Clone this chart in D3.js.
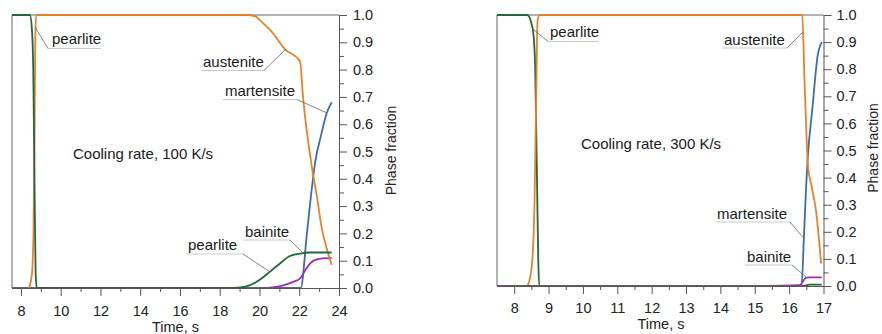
<!DOCTYPE html>
<html>
<head>
<meta charset="utf-8">
<script src="https://cdn.jsdelivr.net/npm/d3@7"></script>
<style>
  body { margin: 0; background: #fff; }
  svg { display: block; font-family: "Liberation Sans", Arial, sans-serif; }
</style>
</head>
<body>
<div id="chart"></div>
<script>
// ---------------------< data: 100 K/s panel (time s, fraction) >---------------------
const time_ticks_100 = [8, 10, 12, 14, 16, 18, 20, 22, 24];
const time_minor_100 = [9, 11, 13, 15, 17, 19, 21, 23];

const pearlite_100 = [[7.55, 1], [8.45, 1], [8.55, 0.95], [8.62, 0.8], [8.68, 0.4], [8.74, 0.05], [8.8, 0],
  [18.6, 0], [19.3, 0.005], [19.8, 0.02], [20.2, 0.04], [20.53, 0.06], [21.03, 0.09], [21.53, 0.117],
  [22.04, 0.126], [22.5, 0.13], [23.63, 0.13]];
const austenite_100 = [[8.4, 0], [8.55, 0.05], [8.63, 0.2], [8.68, 0.5], [8.72, 0.9], [8.76, 1], [19.35, 1],
  [19.8, 0.995], [20.03, 0.98], [20.6, 0.94], [21.28, 0.875], [22.04, 0.83], [22.19, 0.7], [22.64, 0.44],
  [22.9, 0.33], [23.13, 0.22], [23.4, 0.14], [23.63, 0.085]];
const martensite_100 = [[7.55, 0], [22.07, 0], [22.4, 0.21], [22.69, 0.4], [22.8, 0.46], [23.1, 0.56],
  [23.38, 0.64], [23.63, 0.68]];
const bainite_100 = [[20.2, 0], [20.75, 0.003], [21.2, 0.01], [21.6, 0.02], [22.05, 0.035], [22.3, 0.065],
  [22.55, 0.09], [22.8, 0.103], [23.04, 0.107], [23.63, 0.11]];

// ---------------------< data: 300 K/s panel (time s, fraction) >---------------------
const time_ticks_300 = [8, 9, 10, 11, 12, 13, 14, 15, 16, 17];
const time_minor_300 = [8.5, 9.5, 10.5, 11.5, 12.5, 13.5, 14.5, 15.5, 16.5];

const pearlite_300 = [[7.5, 1], [8.38, 1], [8.5, 0.97], [8.56, 0.93], [8.61, 0.81], [8.66, 0.43], [8.7, 0.1],
  [8.73, 0], [16.4, 0], [16.6, 0.005], [16.95, 0.005]];
const austenite_300 = [[8.39, 0], [8.51, 0.07], [8.59, 0.3], [8.64, 0.69], [8.68, 0.98], [8.74, 1], [16.38, 1],
  [16.45, 0.75], [16.55, 0.44], [16.65, 0.37], [16.79, 0.27], [16.87, 0.17], [16.93, 0.083]];
const martensite_300 = [[7.5, 0], [16.36, 0], [16.43, 0.18], [16.5, 0.38], [16.54, 0.47], [16.68, 0.66],
  [16.83, 0.85], [16.95, 0.9]];
const bainite_300 = [[7.5, 0], [15.4, 0], [16.3, 0.003], [16.5, 0.031], [16.6, 0.032], [16.95, 0.032]];

// shared y ticks
const fraction_ticks = [0.0, 0.1, 0.2, 0.3, 0.4, 0.5, 0.6, 0.7, 0.8, 0.9, 1.0];
const fraction_minor = [0.05, 0.15, 0.25, 0.35, 0.45, 0.55, 0.65, 0.75, 0.85, 0.95];

// colours
const c_pearlite = "#22683b";
const c_austenite = "#e6822c";
const c_martensite = "#3b6ea6";
const c_bainite = "#9b2fb0";

const svg = d3.select("#chart")
  .append("svg")
  .attr("width", 882)
  .attr("height", 334);

// ---------------------------< one panel >---------------------------
function draw_panel(p) {
  const x = d3.scaleLinear().domain(p.x_domain).range(p.x_range);
  const y = d3.scaleLinear().domain([0, 1]).range(p.y_range);
  const g = svg.append("g");

  // frame (top + left)
  g.append("path")
    .attr("d", `M${p.x_range[0]},${p.y_range[0]}V${p.y_range[1]}H${p.x_range[1]}`)
    .attr("fill", "none")
    .attr("stroke", "#666")
    .attr("stroke-width", 1);

  // curves
  const line = d3.line()
    .x(d => x(d[0]))
    .y(d => y(d[1]))
    .curve(d3.curveMonotoneX);

  p.series.forEach(s => {
    g.append("path")
      .datum(s.data)
      .attr("d", line)
      .attr("fill", "none")
      .attr("stroke", s.color)
      .attr("stroke-width", 1.8);
  });

  // x axis
  g.append("g")
    .attr("transform", `translate(0,${p.y_range[0]})`)
    .call(d3.axisBottom(x).tickValues(p.x_ticks).tickSize(8).tickSizeOuter(0)
      .tickPadding(p.x_pad).tickFormat(d3.format("d")));
  g.append("g")
    .attr("transform", `translate(0,${p.y_range[0]})`)
    .call(d3.axisBottom(x).tickValues(p.x_minor).tickSize(4).tickSizeOuter(0).tickFormat(""))
    .select(".domain").remove();

  // y axis on the right
  g.append("g")
    .attr("transform", `translate(${p.x_range[1]},0)`)
    .call(d3.axisRight(y).tickValues(fraction_ticks).tickSize(8).tickSizeOuter(0)
      .tickPadding(p.y_pad).tickFormat(d3.format(".1f")));
  g.append("g")
    .attr("transform", `translate(${p.x_range[1]},0)`)
    .call(d3.axisRight(y).tickValues(fraction_minor).tickSize(5).tickSizeOuter(0).tickFormat(""))
    .select(".domain").remove();

  g.selectAll(".domain, .tick line").attr("stroke", "#555");
  g.selectAll(".tick text")
    .attr("fill", "#222")
    .style("font-size", "14.5px")
    .style("font-family", '"Liberation Sans", Arial, sans-serif');

  // axis titles
  g.append("text")
    .attr("x", p.time_label[0])
    .attr("y", p.time_label[1])
    .attr("text-anchor", "middle")
    .attr("fill", "#222")
    .style("font-size", "14.5px")
    .text("Time, s");

  g.append("text")
    .attr("transform", `translate(${p.phase_label[0]},${p.phase_label[1]}) rotate(-90)`)
    .attr("text-anchor", "middle")
    .attr("fill", "#222")
    .style("font-size", "14px")
    .text("Phase fraction");

  // labels with underline + leader
  p.notes.forEach(n => {
    g.append("text")
      .attr("x", n.at[0])
      .attr("y", n.at[1])
      .attr("fill", "#1a1a1a")
      .style("font-size", "15px")
      .text(n.text);
    if (n.under) {
      g.append("line")
        .attr("x1", n.under[0]).attr("x2", n.under[1])
        .attr("y1", n.under[2]).attr("y2", n.under[2])
        .attr("stroke", "#bbb")
        .attr("stroke-width", 0.8);
      g.append("line")
        .attr("x1", n.lead[0]).attr("y1", n.lead[1])
        .attr("x2", n.lead[2]).attr("y2", n.lead[3])
        .attr("stroke", "#666")
        .attr("stroke-width", 0.8);
    }
  });
}

// left: 100 K/s
draw_panel({
  x_domain: [7.55, 24],
  x_range: [12, 339],
  y_range: [288, 15],
  x_ticks: time_ticks_100,
  x_minor: time_minor_100,
  x_pad: 10,
  y_pad: 6,
  time_label: [175.5, 332],
  phase_label: [396, 150.5],
  series: [
    { data: martensite_100, color: c_martensite },
    { data: bainite_100, color: c_bainite },
    { data: austenite_100, color: c_austenite },
    { data: pearlite_100, color: c_pearlite }
  ],
  notes: [
    { text: "pearlite", at: [52, 43.5], under: [48, 101, 48.5], lead: [48, 48.5, 35, 27] },
    { text: "austenite", at: [203, 67], under: [201, 264, 70.5], lead: [264, 70.5, 286, 49] },
    { text: "martensite", at: [225, 96], under: [223, 297, 99.5], lead: [297, 99.5, 327, 113] },
    { text: "bainite", at: [245, 236.5], under: [243, 290, 240], lead: [290, 240, 306, 256] },
    { text: "pearlite", at: [188, 250], under: [186, 243, 254], lead: [243, 254, 270, 272] },
    { text: "Cooling rate, 100 K/s", at: [73, 159] }
  ]
});

// right: 300 K/s
draw_panel({
  x_domain: [7.5, 17],
  x_range: [497, 823.5],
  y_range: [286, 15],
  x_ticks: time_ticks_300,
  x_minor: time_minor_300,
  x_pad: 8.5,
  y_pad: 5,
  time_label: [661, 329],
  phase_label: [878, 148],
  series: [
    { data: pearlite_300, color: c_pearlite },
    { data: martensite_300, color: c_martensite },
    { data: austenite_300, color: c_austenite },
    { data: bainite_300, color: c_bainite }
  ],
  notes: [
    { text: "pearlite", at: [550, 36.5], under: [548, 599, 41.5], lead: [548, 41.5, 533.5, 29.5] },
    { text: "austenite", at: [724, 45], under: [722, 787, 48], lead: [787, 48, 803, 32] },
    { text: "martensite", at: [717, 218.5], under: [715, 790, 222], lead: [790, 222, 803.5, 238] },
    { text: "bainite", at: [747, 261.5], under: [745, 792, 265], lead: [792, 265, 806, 277] },
    { text: "Cooling rate, 300 K/s", at: [581, 149] }
  ]
});
</script>
</body>
</html>
